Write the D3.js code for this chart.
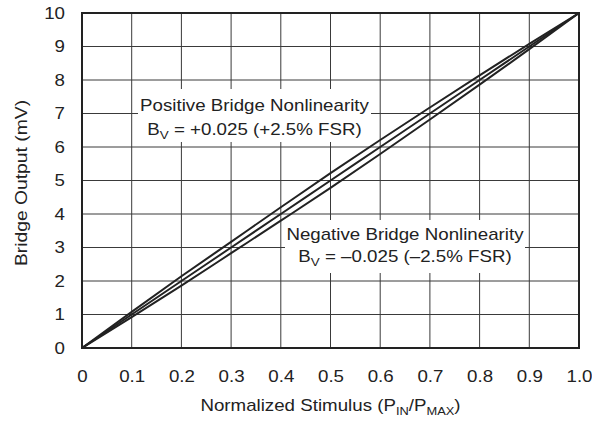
<!DOCTYPE html>
<html>
<head>
<meta charset="utf-8">
<script src="https://cdn.jsdelivr.net/npm/d3@7"></script>
<style>
  html, body { margin: 0; padding: 0; background: #fff; }
  svg text { font-family: "Liberation Sans", Arial, Helvetica, sans-serif; fill: #222; }
  /* slightly widened lettering */
  svg text.wide { transform-box: fill-box; transform-origin: center; transform: scaleX(1.17); }
  svg text.wide-right { transform-box: fill-box; transform-origin: right center; transform: scaleX(1.17); }
</style>
</head>
<body>
<svg id="chart" width="592" height="421"></svg>
<script>
// Normalized stimulus positions
const stimulus = [0, 0.1, 0.2, 0.3, 0.4, 0.5, 0.6, 0.7, 0.8, 0.9, 1.0];
// Bridge output (mV) for ideal, positive and negative nonlinearity
const linearOutput   = [0, 1, 2, 3, 4, 5, 6, 7, 8, 9, 10];
const positiveOutput = [0, 1.08, 2.14, 3.17, 4.20, 5.22, 6.21, 7.18, 8.14, 9.08, 10];
const negativeOutput = [0, 0.92, 1.86, 2.83, 3.80, 4.78, 5.79, 6.82, 7.86, 8.92, 10];

const xTicks = [0, 0.1, 0.2, 0.3, 0.4, 0.5, 0.6, 0.7, 0.8, 0.9, 1.0];
const xTickLabels = ["0", "0.1", "0.2", "0.3", "0.4", "0.5", "0.6", "0.7", "0.8", "0.9", "1.0"];
const yTicks = [0, 1, 2, 3, 4, 5, 6, 7, 8, 9, 10];

const svg = d3.select("#chart");
const margin = { left: 82, right: 13, top: 13, bottom: 73 };
const W = 592, H = 421;

const x = d3.scaleLinear().domain([0, 1]).range([margin.left, W - margin.right]);
const y = d3.scaleLinear().domain([0, 10]).range([H - margin.bottom, margin.top]);

// grid
const grid = svg.append("g").attr("stroke", "#3a3a3a").attr("stroke-width", 1);
grid.selectAll("line.v").data(xTicks.slice(1, -1)).join("line")
  .attr("x1", d => x(d)).attr("x2", d => x(d))
  .attr("y1", y(0)).attr("y2", y(10));
grid.selectAll("line.h").data(yTicks.slice(1, -1)).join("line")
  .attr("y1", d => y(d)).attr("y2", d => y(d))
  .attr("x1", x(0)).attr("x2", x(1));

// curves
const series = [linearOutput, positiveOutput, negativeOutput];
const line = d3.line()
  .x((d, i) => x(stimulus[i]))
  .y(d => y(d))
  .curve(d3.curveMonotoneX);
svg.append("g").selectAll("path").data(series).join("path")
  .attr("d", d => line(d))
  .attr("fill", "none")
  .attr("stroke", "#222")
  .attr("stroke-width", 2);

// frame
svg.append("rect")
  .attr("x", x(0)).attr("y", y(10))
  .attr("width", x(1) - x(0)).attr("height", y(0) - y(10))
  .attr("fill", "none").attr("stroke", "#222").attr("stroke-width", 2);

// axes (labels only)
const xAxis = d3.axisBottom(x).tickValues(xTicks)
  .tickFormat((d, i) => xTickLabels[i]).tickSize(0).tickPadding(23);
const gx = svg.append("g").attr("transform", `translate(0,${y(0)})`).call(xAxis);
gx.select(".domain").remove();
gx.selectAll("text").attr("font-size", 16).attr("font-family", null)
  .attr("fill", "#222").attr("class", "wide");

const yAxis = d3.axisLeft(y).tickValues(yTicks).tickSize(0).tickPadding(17);
const gy = svg.append("g").attr("transform", `translate(${x(0)},0)`).call(yAxis);
gy.select(".domain").remove();
gy.selectAll("text").attr("font-size", 16).attr("font-family", null)
  .attr("fill", "#222").attr("class", "wide-right");

// axis titles
const xt = svg.append("text").attr("class", "wide")
  .attr("x", (x(0) + x(1)) / 2).attr("y", 411)
  .attr("text-anchor", "middle").attr("font-size", 16);
xt.append("tspan").text("Normalized Stimulus (P");
xt.append("tspan").text("IN").attr("font-size", 11).attr("dy", 4);
xt.append("tspan").text("/P").attr("dy", -4);
xt.append("tspan").text("MAX").attr("font-size", 11).attr("dy", 4);
xt.append("tspan").text(")").attr("dy", -4);

svg.append("g")
  .attr("transform", `translate(27,183) rotate(-90)`)
  .append("text").attr("class", "wide")
  .attr("text-anchor", "middle").attr("font-size", 16.5)
  .text("Bridge Output (mV)");

// annotations with white backing boxes
function annotate(box, line1Y, line2Y, title, sign, value, pct) {
  const g = svg.append("g");
  g.append("rect")
    .attr("x", box.x0).attr("y", box.y0)
    .attr("width", box.x1 - box.x0).attr("height", box.y1 - box.y0)
    .attr("fill", "#fff");
  const cx = (box.x0 + box.x1) / 2;
  g.append("text").attr("class", "wide").attr("x", cx).attr("y", line1Y)
    .attr("text-anchor", "middle").attr("font-size", 16).text(title);
  const t = g.append("text").attr("class", "wide").attr("x", cx).attr("y", line2Y)
    .attr("text-anchor", "middle").attr("font-size", 16);
  t.append("tspan").text("B");
  t.append("tspan").text("V").attr("font-size", 11.5).attr("dy", 4);
  t.append("tspan").text(` = ${sign}${value} (${sign}${pct}% FSR)`).attr("dy", -4);
}
annotate({ x0: 138, x1: 371, y0: 89, y1: 142 }, 111, 135,
  "Positive Bridge Nonlinearity", "+", "0.025", "2.5");
annotate({ x0: 285, x1: 525, y0: 220, y1: 273 }, 240, 262,
  "Negative Bridge Nonlinearity", "\u2013", "0.025", "2.5");
</script>
</body>
</html>
